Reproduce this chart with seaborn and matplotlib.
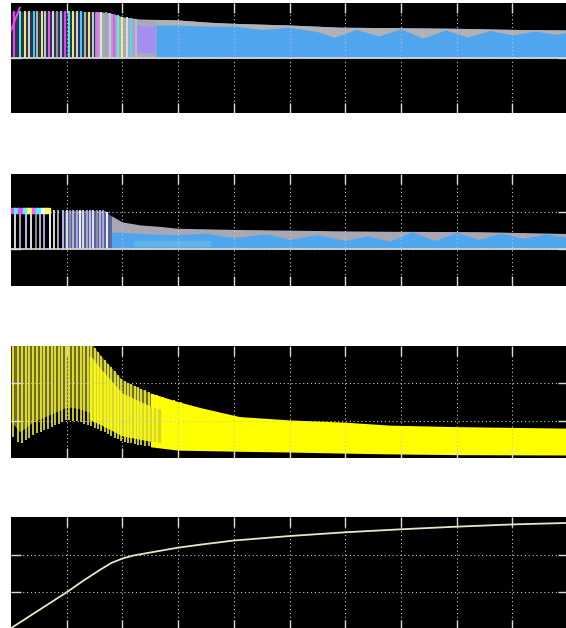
import numpy as np
import pandas as pd
import matplotlib.pyplot as plt
import seaborn as sns

sns.set_theme(style='dark')

# ---- panel 1 : band envelope (divisions) ----
p1_t = [0.0, 0.4, 1.0, 1.6, 1.78, 2.0, 2.3, 3.0, 3.57, 4.0, 5.0, 5.9, 7.0, 8.0, 9.0, 10.0]
p1_top = [1.85, 1.85, 1.85, 1.84, 1.82, 1.75, 1.71, 1.69, 1.65, 1.63, 1.60, 1.56, 1.55, 1.54, 1.52, 1.51]
p1_bot = 1.0
# lower edge of the grey fringe on top of the blue band
p1_grey_t = [2.6, 3.0, 3.5, 4.0, 4.5, 5.0, 5.5, 5.8, 6.2, 6.6, 7.0, 7.4, 7.8, 8.2, 8.6, 9.0, 9.4, 9.8, 10.0]
p1_grey_v = [1.60, 1.60, 1.58, 1.58, 1.52, 1.56, 1.48, 1.38, 1.52, 1.40, 1.53, 1.36, 1.51, 1.38, 1.50, 1.42, 1.49, 1.43, 1.47]
p1_spikes = [0.05, 0.17, 0.26, 0.33, 0.41, 0.47, 0.55, 0.61, 0.68, 0.76, 0.82, 0.9, 0.97, 1.04, 1.11,
             1.19, 1.25, 1.33, 1.4, 1.47, 1.55, 1.62, 1.7, 1.77, 1.85, 1.92, 2.0, 2.08, 2.15, 2.24]
p1_rise_t = [0.0, 0.16]
p1_rise_v = [1.50, 1.92]

# ---- panel 2 ----
p2_t = [0.0, 1.0, 1.69, 1.78, 2.0, 2.32, 2.68, 3.0, 4.0, 5.0, 6.0, 6.8, 8.4, 10.0]
p2_top = [2.03, 2.03, 2.03, 1.90, 1.72, 1.64, 1.60, 1.55, 1.52, 1.50, 1.48, 1.47, 1.46, 1.41]
p2_bot = 1.0
p2_blue_t = [1.8, 2.5, 3.0, 3.5, 4.0, 4.6, 5.0, 5.5, 6.0, 6.4, 6.8, 7.2, 7.6, 8.0, 8.4, 8.8, 9.2, 9.6, 10.0]
p2_blue_v = [1.45, 1.40, 1.38, 1.42, 1.30, 1.40, 1.25, 1.38, 1.22, 1.35, 1.20, 1.46, 1.22, 1.44, 1.25, 1.42, 1.28, 1.40, 1.30]
p2_spikes = [0.08, 0.16, 0.27, 0.36, 0.45, 0.52, 0.6, 0.7, 0.78, 0.85, 0.93, 1.0, 1.06, 1.12, 1.18,
             1.24, 1.3, 1.36, 1.42, 1.48, 1.54, 1.6, 1.66, 1.72]
p2_dots_t = [0.02, 0.1, 0.18, 0.26, 0.34, 0.42, 0.5, 0.58, 0.66]

# ---- panel 3 ----
p3_t = [0.0, 0.16, 0.4, 0.8, 1.0, 1.2, 1.45, 1.6, 2.0, 2.5, 3.0, 3.4, 4.1, 5.0, 6.0, 6.8, 8.0, 10.0]
p3_top = [3.2, 3.2, 3.2, 3.2, 3.2, 3.2, 3.05, 2.76, 2.09, 1.74, 1.51, 1.35, 1.11, 1.02, 0.96, 0.88, 0.84, 0.80]
p3_low = [0.62, 0.35, 0.62, 0.88, 1.02, 0.98, 0.85, 0.75, 0.44, 0.30, 0.21, 0.20, 0.18, 0.16, 0.13, 0.11, 0.09, 0.08]
p3_spikes = [0.04, 0.12, 0.2, 0.27, 0.33, 0.4, 0.47, 0.53, 0.6, 0.66, 0.73, 0.79, 0.86, 0.92, 0.99,
             1.05, 1.12, 1.18, 1.25, 1.31, 1.38, 1.44, 1.5, 1.56, 1.62, 1.68, 1.74, 1.8, 1.86,
             1.92, 1.98, 2.04, 2.1, 2.16, 2.22, 2.28, 2.34, 2.4, 2.47, 2.55, 2.63, 2.72, 2.82, 2.93, 3.05]

# ---- panel 4 ----
p4_t = [0.0, 1.0, 1.3, 1.6, 1.8, 2.0, 2.2, 2.5, 3.0, 3.4, 4.0, 5.0, 6.0, 7.0, 8.0, 9.0, 10.0]
p4_v = [0.04, 1.0, 1.31, 1.60, 1.78, 1.90, 1.98, 2.06, 2.19, 2.27, 2.38, 2.50, 2.60, 2.68, 2.75, 2.81, 2.85]

fig = plt.figure(figsize=(5.66, 6.28), dpi=100)


def scope_axes(top, bottom, ymax, yt):
    ax = fig.add_axes([11 / 566, 1 - bottom / 628, 557 / 566, (bottom - top) / 628])
    ax.set_facecolor('black')
    ax.set_xlim(0, 10)
    ax.set_ylim(0, ymax)
    ax.set_xticks(range(1, 10))
    ax.set_yticks(yt)
    ax.grid(True, color='#c4c4c4', linestyle=(0, (1, 2.5)), linewidth=0.8)
    ax.tick_params(direction='in', length=7, width=1, color='#d8d8d8',
                   top=True, bottom=True, left=True, right=True,
                   labelbottom=False, labelleft=False)
    for s in ax.spines.values():
        s.set_visible(False)
    ax.set_axisbelow(False)
    return ax


def interp(tq, t, v):
    return np.interp(tq, t, v)


tt = np.linspace(0, 10, 600)

# panel 1
ax1 = scope_axes(3, 113, 2, [1])
top1 = interp(tt, p1_t, p1_top)
m = tt <= 1.6
ax1.fill_between(tt[m], p1_bot, top1[m], color='#2e3350', lw=0, zorder=1)
m = (tt >= 1.5) & (tt <= 3.2)
ax1.fill_between(tt[m], p1_bot, top1[m], color='#a9a9ba', lw=0, zorder=1)
m = (tt >= 2.2) & (tt <= 2.6)
ax1.fill_between(tt[m], p1_bot + 0.1, top1[m] - 0.12, color='#a48ff0', lw=0, zorder=1.5)
m = tt >= 2.6
ax1.fill_between(tt[m], p1_bot, top1[m], color='#4fa5ee', lw=0, zorder=1)
grey1 = interp(tt, p1_grey_t, p1_grey_v)
ax1.fill_between(tt[m], np.minimum(grey1[m], top1[m]), top1[m], color='#b2b2b6', lw=0, zorder=1.2)
cols1 = ['#ff40ff', '#40ffff', '#ffff60', '#e0e0e0', '#40e0ff', '#c0c0c0', '#ffff60', '#d0d0ff',
         '#ff60ff', '#e8e8e8', '#a0a0a0', '#c8c8ff']
ax1.vlines(p1_spikes, p1_bot, interp(p1_spikes, p1_t, p1_top),
           colors=[cols1[i % len(cols1)] for i in range(len(p1_spikes))], lw=1.3, zorder=2)
sns.lineplot(x=p1_rise_t, y=p1_rise_v, ax=ax1, color='#ff40ff', lw=1.3, zorder=3)
ax1.axhline(p1_bot, color='#d8d8d8', lw=1.2, zorder=3)

# panel 2
ax2 = scope_axes(174.3, 286, 3, [1, 2])
top2 = interp(tt, p2_t, p2_top)
m = (tt >= 0.95) & (tt <= 1.9)
ax2.fill_between(tt[m], p2_bot, top2[m], color='#56649c', lw=0, zorder=1)
m = tt >= 1.8
ax2.fill_between(tt[m], p2_bot, top2[m], color='#a8a8b4', lw=0, zorder=1)
blue2 = interp(tt, p2_blue_t, p2_blue_v)
ax2.fill_between(tt[m], p2_bot, np.minimum(blue2[m], top2[m]), color='#4fa5ee', lw=0, zorder=1.2)
m = (tt >= 2.2) & (tt <= 3.6)
ax2.fill_between(tt[m], p2_bot + 0.05, p2_bot + 0.2, color='#6fc8e0', lw=0, alpha=0.5, zorder=1.3)
cols2 = ['#e8e8e8', '#b0b0c0', '#d0c0ff', '#f0f0f0', '#9090b0', '#c0c0c0', '#b8a8ff', '#ffffff']
ax2.vlines(p2_spikes, p2_bot, interp(p2_spikes, p2_t, p2_top),
           colors=[cols2[i % len(cols2)] for i in range(len(p2_spikes))], lw=1.3, zorder=2)
dots = pd.DataFrame({'t': p2_dots_t, 'v': [2.03] * len(p2_dots_t)})
ax2.scatter(dots['t'], dots['v'], s=14, marker='s', zorder=3,
            c=['#ff40ff', '#40ffff', '#ff40ff', '#40ffff', '#ffff60', '#ff60ff', '#40ffff', '#ffffff', '#ffff60'])
ax2.axhline(p2_bot, color='#d8d8d8', lw=1.2, zorder=3)

# panel 3
ax3 = scope_axes(346, 458, 3, [1, 2])
top3 = interp(tt, p3_t, p3_top)
low3 = interp(tt, p3_t, p3_low)
m = tt <= 2.7
ax3.fill_between(tt[m], low3[m] + 0.35, top3[m], color='#6e6c34', lw=0, zorder=1)
m = tt >= 2.5
ax3.fill_between(tt[m], low3[m], top3[m], color='#ffff00', lw=0, zorder=1)
m = (tt >= 1.4) & (tt <= 2.7)
ax3.fill_between(tt[m], low3[m] + 0.15, top3[m] - 0.35, color='#d8d820', lw=0, zorder=1.1)
ax3.vlines(p3_spikes, interp(p3_spikes, p3_t, p3_low), interp(p3_spikes, p3_t, p3_top),
           colors='#ffff20', lw=1.1, zorder=2)

# panel 4
ax4 = scope_axes(517.3, 629.7, 3, [1, 2])
sns.lineplot(x=p4_t, y=p4_v, ax=ax4, color='#e6e6c8', lw=1.3, zorder=3)

fig.savefig('out.png', dpi=100)
